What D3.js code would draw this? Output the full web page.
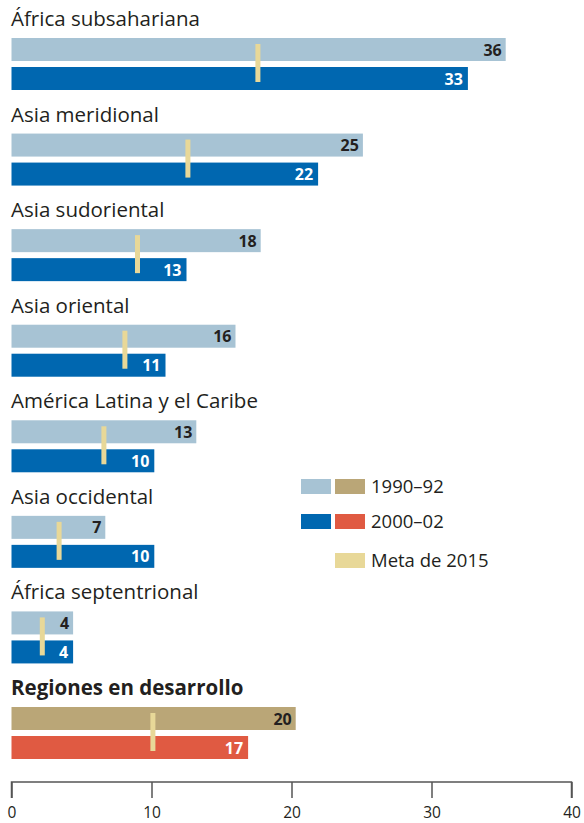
<!DOCTYPE html>
<html><head><meta charset="utf-8">
<script src="https://cdn.jsdelivr.net/npm/d3@7/dist/d3.min.js"></script>
<style>body{margin:0;background:#fff}svg{display:block}</style>
</head><body>
<script>
const regions = ["África subsahariana","Asia meridional","Asia sudoriental","Asia oriental","América Latina y el Caribe","Asia occidental","África septentrional","Regiones en desarrollo"];
const values1990 = [35.3, 25.1, 17.8, 16.0, 13.2, 6.7, 4.4, 20.3];
const values2000 = [32.6, 21.9, 12.5, 11.0, 10.2, 10.2, 4.4, 16.9];
const meta2015 = [17.6, 12.6, 9.0, 8.1, 6.6, 3.4, 2.2, 10.1];
const labels1990 = ["36","25","18","16","13","7","4","20"];
const labels2000 = ["33","22","13","11","10","10","4","17"];
const ticks = [0, 10, 20, 30, 40];
const legendLabels = ["1990–92", "2000–02", "Meta de 2015"];

const W = 584, H = 823;
const font = "'Open Sans', 'Noto Sans', sans-serif";
const c = {light:"#a7c3d4", dark:"#0067b0", tan:"#baa677", red:"#e05a42", meta:"#e8d898", text:"#231f20"};

const svg = d3.select("body").append("svg").attr("width", W).attr("height", H);
const x = d3.scaleLinear().domain([0, 40]).range([11.5, 571.5]);
const yg = d3.scaleLinear().domain([0, 7]).range([0, 669]);

const g = svg.selectAll("g.grp").data(regions).join("g")
  .attr("transform", (d, i) => `translate(0,${yg(i)})`);

g.append("text").attr("x", 11).attr("y", 26)
  .attr("font-family", font).attr("font-size", 20.5)
  .attr("font-weight", (d, i) => i === 7 ? 700 : 400)
  .attr("fill", c.text).text(d => d);

g.append("rect").attr("x", x(0)).attr("y", 38).attr("height", 23)
  .attr("width", (d, i) => x(values1990[i]) - x(0))
  .attr("fill", (d, i) => i === 7 ? c.tan : c.light);
g.append("rect").attr("x", x(0)).attr("y", 67).attr("height", 23)
  .attr("width", (d, i) => x(values2000[i]) - x(0))
  .attr("fill", (d, i) => i === 7 ? c.red : c.dark);

g.append("text").attr("x", (d, i) => x(values1990[i]) - 4).attr("y", 55.5)
  .attr("text-anchor", "end").attr("font-family", font).attr("font-size", 16).attr("font-weight", 700)
  .attr("fill", c.text).text((d, i) => labels1990[i]);
g.append("text").attr("x", (d, i) => x(values2000[i]) - 5).attr("y", 84.5)
  .attr("text-anchor", "end").attr("font-family", font).attr("font-size", 16).attr("font-weight", 700)
  .attr("fill", "#fff").text((d, i) => labels2000[i]);

g.append("rect").attr("x", (d, i) => x(meta2015[i]) - 2.5).attr("y", 44).attr("width", 5).attr("height", 38)
  .attr("fill", c.meta);

// axis
const axis = d3.axisBottom(x).tickValues(ticks).tickSize(16).tickFormat(d3.format("d"));
const ax = svg.append("g").attr("transform", "translate(0,782)").call(axis)
  .attr("font-size", 15.5).attr("font-family", font);
ax.select(".domain").attr("stroke", "#555").attr("stroke-width", 1.5).attr("d", `M${x(0)},16V0H${x(40)}V16`);
ax.selectAll(".tick line").attr("stroke", "#555").attr("stroke-width", 1.5);
ax.selectAll(".tick text").attr("y", 36).attr("dy", 0).attr("fill", c.text);

// legend
const leg = svg.append("g");
const legRows = [
  {y: 479, colors: [c.light, c.tan], label: legendLabels[0]},
  {y: 514, colors: [c.dark, c.red], label: legendLabels[1]},
  {y: 553, colors: [null, c.meta], label: legendLabels[2]}
];
legRows.forEach(r => {
  r.colors.forEach((col, j) => {
    if (col) leg.append("rect").attr("x", 301 + j * 34).attr("y", r.y).attr("width", 30).attr("height", 15).attr("fill", col);
  });
  leg.append("text").attr("x", 371).attr("y", r.y + 14).attr("font-family", font).attr("font-size", 18.5)
    .attr("fill", c.text).text(r.label);
});
</script>
</body></html>
